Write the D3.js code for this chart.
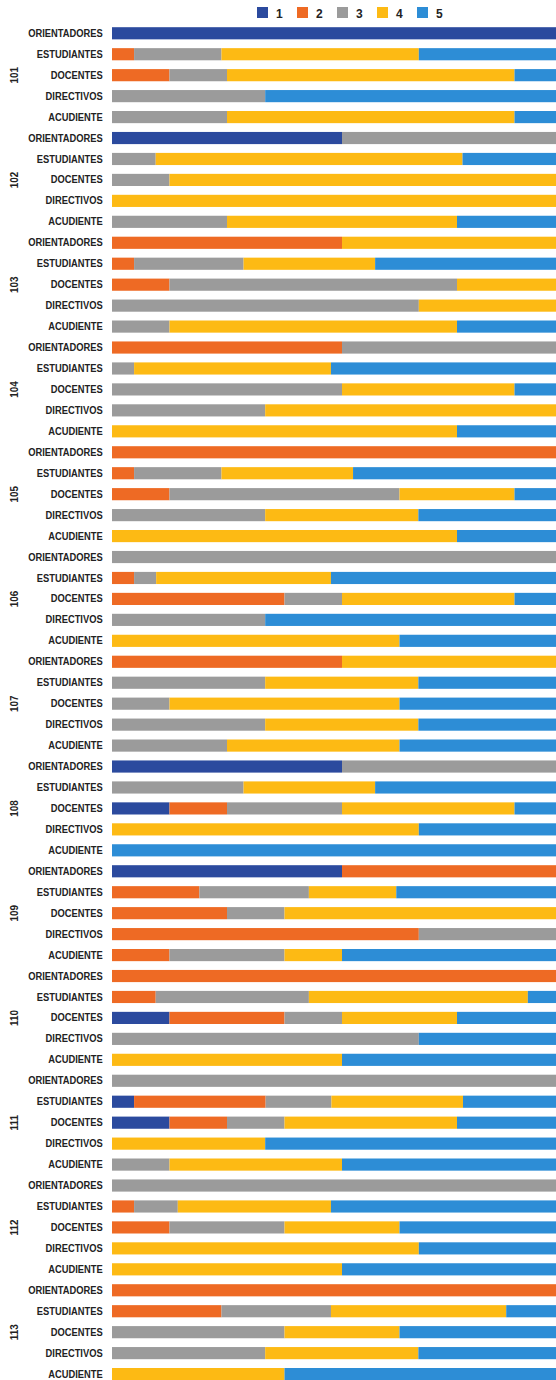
<!DOCTYPE html>
<html>
<head>
<meta charset="utf-8">
<script src="https://cdn.jsdelivr.net/npm/d3@7"></script>
<style>
  body { margin: 0; background: #fff; }
  text { font-family: "Liberation Sans Narrow", "Arial Narrow", "Liberation Sans", sans-serif; font-weight: bold; fill: #222; }
</style>
</head>
<body>
<svg id="chart" width="556" height="1380"></svg>
<script>
/////////////////////////////////////////////////////////////////////////////////////
// Data
var groups = ["101","102","103","104","105","106","107","108","109","110","111","112","113"];
var roles = ["ORIENTADORES","ESTUDIANTES","DOCENTES","DIRECTIVOS","ACUDIENTE"];
var levels = ["1","2","3","4","5"];
// percent per level 1..5, one row per group x role (same order as groups, roles)
var values = [
  // 101
  [100, 0, 0, 0, 0],
  [0, 4.8, 19.0, 42.9, 33.3],
  [0, 12.5, 12.5, 62.5, 12.5],
  [0, 0, 33.3, 0, 66.7],
  [0, 0, 25, 62.5, 12.5],
  // 102
  [50, 0, 50, 0, 0],
  [0, 0, 9.5, 66.7, 23.8],
  [0, 0, 12.5, 87.5, 0],
  [0, 0, 0, 100, 0],
  [0, 0, 25, 50, 25],
  // 103
  [0, 50, 0, 50, 0],
  [0, 4.8, 23.8, 28.6, 42.8],
  [0, 12.5, 62.5, 25, 0],
  [0, 0, 66.7, 33.3, 0],
  [0, 0, 12.5, 62.5, 25],
  // 104
  [0, 50, 50, 0, 0],
  [0, 0, 4.8, 42.8, 52.4],
  [0, 0, 50, 37.5, 12.5],
  [0, 0, 33.3, 66.7, 0],
  [0, 0, 0, 75, 25],
  // 105
  [0, 100, 0, 0, 0],
  [0, 4.8, 19.0, 28.6, 47.6],
  [0, 12.5, 50, 25, 12.5],
  [0, 0, 33.3, 33.3, 33.4],
  [0, 0, 0, 75, 25],
  // 106
  [0, 0, 100, 0, 0],
  [0, 4.8, 4.8, 38.0, 52.4],
  [0, 37.5, 12.5, 37.5, 12.5],
  [0, 0, 33.3, 0, 66.7],
  [0, 0, 0, 62.5, 37.5],
  // 107
  [0, 50, 0, 50, 0],
  [0, 0, 33.3, 33.3, 33.4],
  [0, 0, 12.5, 50, 37.5],
  [0, 0, 33.3, 33.3, 33.4],
  [0, 0, 25, 37.5, 37.5],
  // 108
  [50, 0, 50, 0, 0],
  [0, 0, 28.6, 28.6, 42.8],
  [12.5, 12.5, 25, 37.5, 12.5],
  [0, 0, 0, 66.7, 33.3],
  [0, 0, 0, 0, 100],
  // 109
  [50, 50, 0, 0, 0],
  [0, 19.0, 23.8, 19.0, 38.2],
  [0, 25, 12.5, 62.5, 0],
  [0, 66.7, 33.3, 0, 0],
  [0, 12.5, 25, 12.5, 50],
  // 110
  [0, 100, 0, 0, 0],
  [0, 9.5, 33.3, 47.6, 9.6],
  [12.5, 25, 12.5, 25, 25],
  [0, 0, 66.7, 0, 33.3],
  [0, 0, 0, 50, 50],
  // 111
  [0, 0, 100, 0, 0],
  [4.8, 28.6, 14.3, 28.6, 23.7],
  [12.5, 12.5, 12.5, 37.5, 25],
  [0, 0, 0, 33.3, 66.7],
  [0, 0, 12.5, 37.5, 50],
  // 112
  [0, 0, 100, 0, 0],
  [0, 4.8, 9.5, 33.3, 52.4],
  [0, 12.5, 25, 25, 37.5],
  [0, 0, 0, 66.7, 33.3],
  [0, 0, 0, 50, 50],
  // 113
  [0, 100, 0, 0, 0],
  [0, 23.8, 23.8, 38.1, 14.3],
  [0, 0, 37.5, 25, 37.5],
  [0, 0, 33.3, 33.3, 33.4],
  [0, 0, 0, 37.5, 62.5]
];
var colors = ["#2B4A9E", "#EE6A24", "#9B9B9B", "#FDBA14", "#2D8DD6"];

/////////////////////////////////////////////////////////////////////////////////////
// Rows
var rows = [];
groups.forEach(function(g, gi) {
  roles.forEach(function(r, ri) {
    var row = { id: g + "|" + r, group: g, role: r };
    levels.forEach(function(l, li) { row[l] = values[gi * roles.length + ri][li]; });
    rows.push(row);
  });
});
var series = d3.stack().keys(levels)(rows);

/////////////////////////////////////////////////////////////////////////////////////
// Margins / scales
var svg = d3.select("#chart");
var margin = {left: 112, top: 22.8};
var step = 20.95;

var xScale = d3.scaleLinear().domain([0, 100]).range([margin.left, margin.left + 460]);
var yScale = d3.scaleBand()
               .domain(rows.map(function(d) { return d.id; }))
               .range([margin.top, margin.top + step * rows.length])
               .paddingInner(0.42)
               .paddingOuter(0.21);

/////////////////////////////////////////////////////////////////////////////////////
// Bars
svg.append("g").selectAll("g")
   .data(series)
   .enter()
   .append("g")
   .attr("fill", function(d, i) { return colors[i]; })
   .selectAll("rect")
   .data(function(d) { return d; })
   .enter()
   .append("rect")
   .attr("x", function(d) { return xScale(d[0]); })
   .attr("y", function(d) { return yScale(d.data.id); })
   .attr("width", function(d) { return xScale(d[1]) - xScale(d[0]); })
   .attr("height", yScale.bandwidth());

// Role labels (narrow bold look: squeeze horizontally)
var yAxis = d3.axisLeft(yScale)
              .tickSize(0)
              .tickPadding(11)
              .tickFormat(function(id) { return id.split("|")[1]; });
svg.append("g")
   .attr("transform", "translate(" + margin.left + ",0)")
   .call(yAxis)
   .call(function(g) { g.select(".domain").remove(); })
   .selectAll("text")
   .style("font-size", "11px")
   .style("font-family", null)
   .attr("fill", "#222")
   .attr("transform", "scale(0.85,1)");

// Group labels
svg.append("g").selectAll("text")
   .data(groups)
   .enter()
   .append("text")
   .attr("transform", function(g) {
     var cy = yScale(g + "|DOCENTES") + yScale.bandwidth() / 2;
     return "translate(18," + cy + ") rotate(-90) scale(0.9,1)";
   })
   .attr("text-anchor", "middle")
   .style("font-size", "11px")
   .text(function(g) { return g; });

/////////////////////////////////////////////////////////////////////////////////////
// Legend
var legend = svg.append("g").attr("transform", "translate(257,7)");
var item = legend.selectAll("g")
   .data(levels)
   .enter()
   .append("g")
   .attr("transform", function(d, i) { return "translate(" + (i * 40) + ",0)"; });
item.append("rect")
    .attr("width", 11).attr("height", 11)
    .attr("fill", function(d, i) { return colors[i]; });
item.append("text")
    .attr("x", 19).attr("y", 10.5)
    .style("font-size", "12px")
    .text(function(d) { return d; });
</script>
</body>
</html>
